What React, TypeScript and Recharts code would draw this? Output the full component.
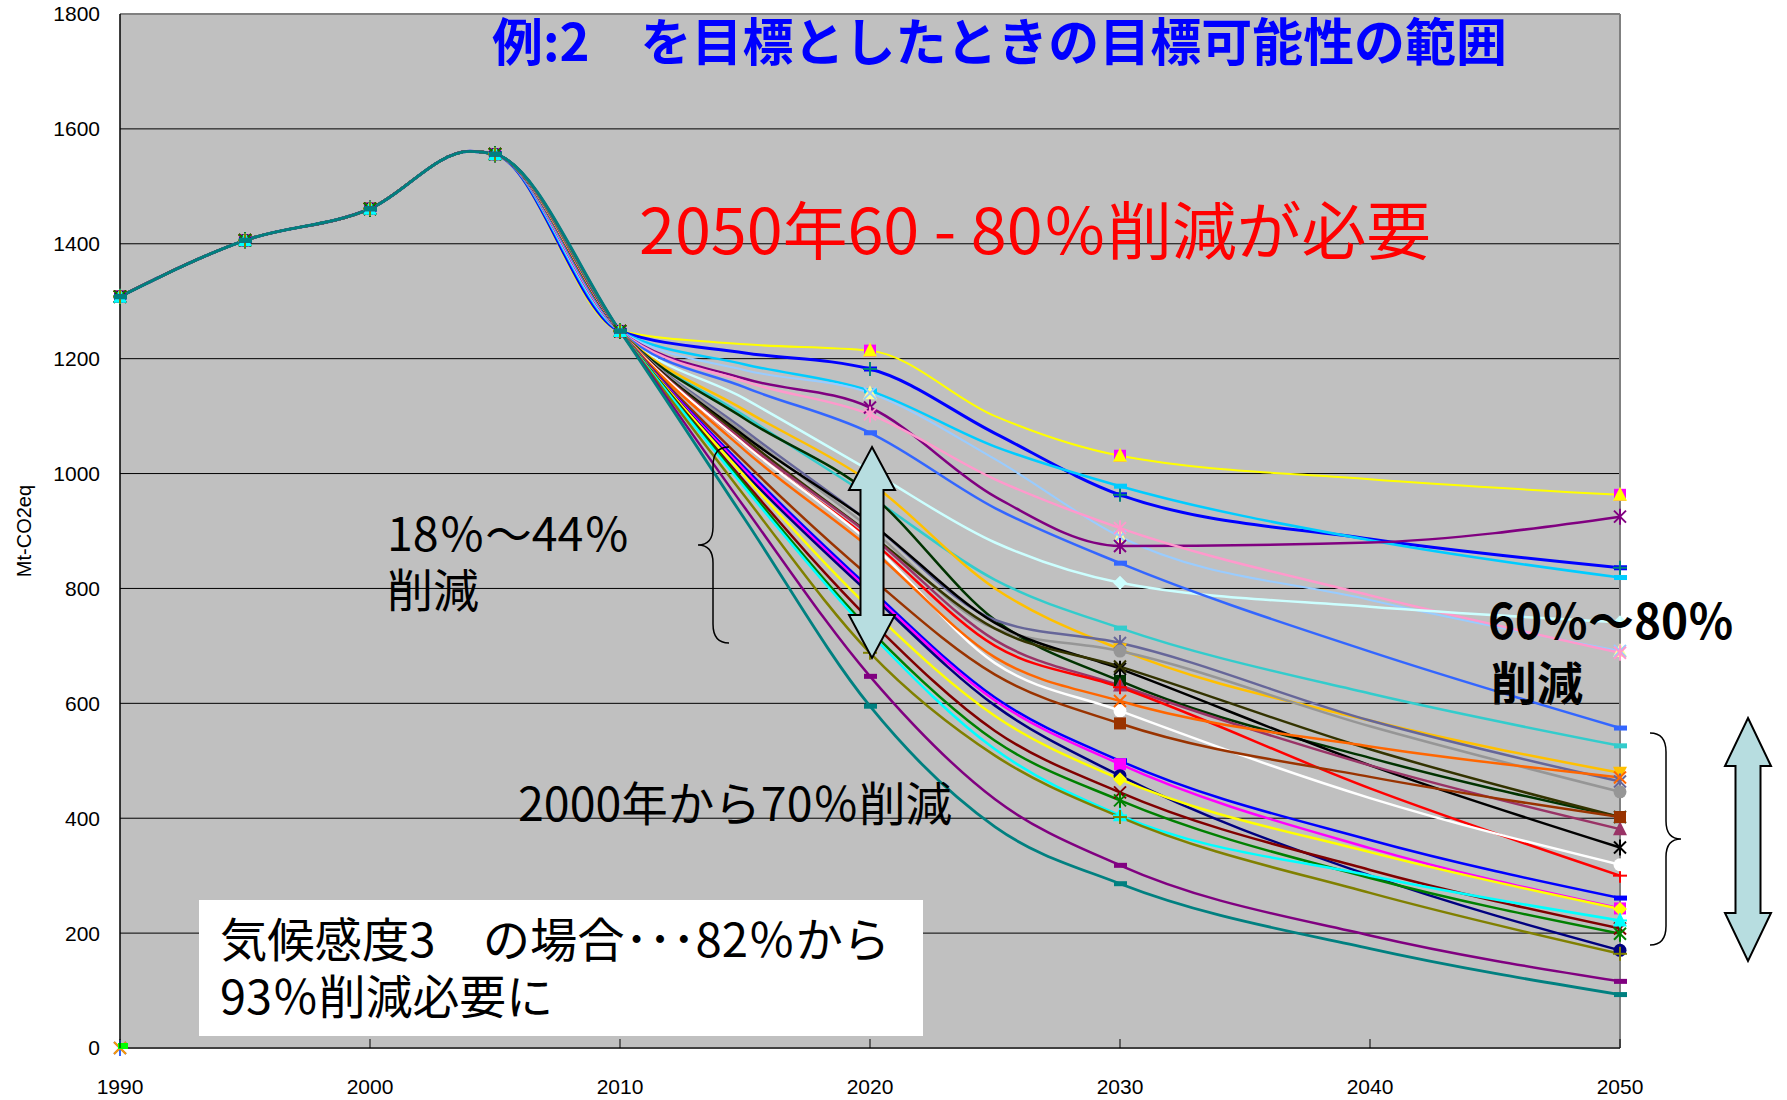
import { LineChart, Line, XAxis, YAxis, CartesianGrid, ReferenceLine } from "recharts";

// shared history 1990-2010 and the scenario years after it
const historyYears = [1990, 1995, 2000, 2004, 2005, 2010];
const historyValues = [1308, 1406, 1461, 1561, 1556, 1248];
const scenarioYears = [2015, 2020, 2025, 2030, 2040, 2050];
const markerYears = [1990, 1995, 2000, 2005, 2010, 2020, 2030, 2050];
const xTicks = [1990, 2000, 2010, 2020, 2030, 2040, 2050];
const yTicks = [0, 200, 400, 600, 800, 1000, 1200, 1400, 1600, 1800];

// scenario values (Mt-CO2eq) at 2015, 2020, 2025, 2030, 2040, 2050
const sYellowTop = [1225, 1214, 1100, 1031, 990, 963];
const sBlueTop = [1210, 1182, 1070, 963, 886, 836];
const sSkyBlue = [1190, 1144, 1047, 978, 884, 819];
const sPaleBlue = [1180, 1140, 1025, 890, 780, 691];
const sPurpleTop = [1165, 1115, 960, 874, 880, 925];
const sPink = [1160, 1103, 990, 905, 788, 688];
const sLightCyan = [1130, 1005, 880, 810, 768, 741];
const sRoyalBlue = [1150, 1071, 940, 844, 690, 557];
const sTurquoise = [1100, 960, 815, 731, 617, 526];
const sGold = [1110, 985, 800, 694, 570, 479];
const sDarkGreen = [1095, 965, 745, 639, 505, 402];
const sSlate = [1075, 915, 745, 705, 570, 464];
const sGray = [1070, 905, 730, 691, 560, 446];
const sBlack = [1065, 915, 740, 660, 492, 349];
const sDarkOlive = [1060, 895, 730, 664, 520, 402];
const sPlum = [1055, 893, 710, 631, 492, 381];
const sRed = [1050, 885, 700, 628, 452, 300];
const sWhite = [1050, 880, 670, 587, 435, 319];
const sOrange = [1040, 870, 680, 604, 525, 471];
const sBrown = [1020, 820, 650, 565, 472, 402];
const sBlueLow = [1010, 800, 610, 500, 362, 261];
const sMagenta = [1005, 795, 605, 494, 348, 243];
const sNavy = [1000, 790, 596, 474, 300, 170];
const sYellowLow = [995, 765, 578, 468, 341, 242];
const sDarkRed = [985, 745, 552, 445, 310, 208];
const sGreen = [980, 728, 535, 431, 296, 199];
const sCyan = [975, 722, 520, 405, 300, 222];
const sOlive = [960, 688, 509, 402, 270, 164];
const sPurpleLow = [940, 647, 433, 318, 196, 116];
const sTeal = [920, 595, 385, 286, 173, 93];

type Mk = { kind: string; color: string };
type Series = { key: string; color: string; width: number; markers: Mk[]; values: number[] };

const series: Series[] = [
  { key: "s01", color: "#FFFF00", width: 2, markers: [{ kind: "square", color: "#FF00FF" }, { kind: "triangle", color: "#FFFF00" }], values: sYellowTop },
  { key: "s02", color: "#0000FF", width: 3, markers: [{ kind: "dash", color: "#0000FF" }, { kind: "plus", color: "#008080" }], values: sBlueTop },
  { key: "s03", color: "#00CCFF", width: 2.5, markers: [{ kind: "dash", color: "#00CCFF" }], values: sSkyBlue },
  { key: "s04", color: "#99CCFF", width: 2, markers: [{ kind: "triangle", color: "#FFFF99" }, { kind: "x", color: "#99CCFF" }], values: sPaleBlue },
  { key: "s05", color: "#800080", width: 2.5, markers: [{ kind: "asterisk", color: "#800080" }], values: sPurpleTop },
  { key: "s06", color: "#FF99CC", width: 2.5, markers: [{ kind: "asterisk", color: "#FF99CC" }], values: sPink },
  { key: "s07", color: "#CCFFFF", width: 2.5, markers: [{ kind: "diamond", color: "#CCFFFF" }], values: sLightCyan },
  { key: "s08", color: "#3366FF", width: 2.5, markers: [{ kind: "dash", color: "#3366FF" }], values: sRoyalBlue },
  { key: "s09", color: "#33CCCC", width: 2.5, markers: [{ kind: "dash", color: "#33CCCC" }], values: sTurquoise },
  { key: "s10", color: "#FFC000", width: 2.5, markers: [{ kind: "triangleDown", color: "#FFC000" }], values: sGold },
  { key: "s11", color: "#003300", width: 2.5, markers: [{ kind: "square", color: "#003300" }], values: sDarkGreen },
  { key: "s12", color: "#666699", width: 2.5, markers: [{ kind: "asterisk", color: "#666699" }], values: sSlate },
  { key: "s13", color: "#969696", width: 2.5, markers: [{ kind: "circle", color: "#969696" }], values: sGray },
  { key: "s14", color: "#000000", width: 2.5, markers: [{ kind: "asterisk", color: "#000000" }], values: sBlack },
  { key: "s15", color: "#333300", width: 2.5, markers: [{ kind: "x", color: "#333300" }], values: sDarkOlive },
  { key: "s16", color: "#993366", width: 2.5, markers: [{ kind: "triangle", color: "#993366" }], values: sPlum },
  { key: "s17", color: "#FF0000", width: 2.5, markers: [{ kind: "plus", color: "#FF0000" }], values: sRed },
  { key: "s18", color: "#FFFFFF", width: 2.5, markers: [{ kind: "circle", color: "#FFFFFF" }], values: sWhite },
  { key: "s19", color: "#FF6600", width: 2.5, markers: [{ kind: "x", color: "#FF6600" }], values: sOrange },
  { key: "s20", color: "#993300", width: 2.5, markers: [{ kind: "square", color: "#993300" }], values: sBrown },
  { key: "s21", color: "#0000FF", width: 2.5, markers: [{ kind: "dash", color: "#0000FF" }], values: sBlueLow },
  { key: "s22", color: "#FF00FF", width: 2.5, markers: [{ kind: "square", color: "#FF00FF" }], values: sMagenta },
  { key: "s23", color: "#000080", width: 2.5, markers: [{ kind: "circle", color: "#000080" }], values: sNavy },
  { key: "s24", color: "#FFFF00", width: 2.5, markers: [{ kind: "diamond", color: "#FFFF00" }], values: sYellowLow },
  { key: "s25", color: "#800000", width: 2.5, markers: [{ kind: "x", color: "#800000" }], values: sDarkRed },
  { key: "s26", color: "#008000", width: 2.5, markers: [{ kind: "asterisk", color: "#008000" }], values: sGreen },
  { key: "s27", color: "#00FFFF", width: 2.5, markers: [{ kind: "triangle", color: "#00FFFF" }, { kind: "plus", color: "#00FFFF" }], values: sCyan },
  { key: "s28", color: "#808000", width: 2.5, markers: [{ kind: "plus", color: "#808000" }], values: sOlive },
  { key: "s29", color: "#800080", width: 2.5, markers: [{ kind: "dash", color: "#800080" }], values: sPurpleLow },
  { key: "s30", color: "#008080", width: 2.8, markers: [{ kind: "dash", color: "#008080" }], values: sTeal },
];

const years = [...historyYears, ...scenarioYears];
const rows = years.map((year, i) => {
  const row: any = { year };
  series.forEach((s) => {
    row[s.key] = i < historyValues.length ? historyValues[i] : s.values[i - historyValues.length];
  });
  if (year === 1990) row.zero = 0;
  return row;
});

function drawMarker(kind: string, color: string, cx: number, cy: number, k: string) {
  switch (kind) {
    case "triangle":
      return <polygon key={k} points={`${cx},${cy - 8} ${cx - 7},${cy + 6} ${cx + 7},${cy + 6}`} fill={color} />;
    case "triangleDown":
      return <polygon key={k} points={`${cx},${cy + 8} ${cx - 7},${cy - 6} ${cx + 7},${cy - 6}`} fill={color} />;
    case "square":
      return <rect key={k} x={cx - 6} y={cy - 6} width={12} height={12} fill={color} />;
    case "circle":
      return <circle key={k} cx={cx} cy={cy} r={6.5} fill={color} />;
    case "diamond":
      return <polygon key={k} points={`${cx},${cy - 7} ${cx + 7},${cy} ${cx},${cy + 7} ${cx - 7},${cy}`} fill={color} />;
    case "dash":
      return <rect key={k} x={cx - 6} y={cy - 2.5} width={13} height={5} fill={color} />;
    case "plus":
      return (
        <g key={k} stroke={color} strokeWidth={2}>
          <line x1={cx - 7} y1={cy} x2={cx + 7} y2={cy} />
          <line x1={cx} y1={cy - 7} x2={cx} y2={cy + 7} />
        </g>
      );
    case "x":
      return (
        <g key={k} stroke={color} strokeWidth={2}>
          <line x1={cx - 6} y1={cy - 6} x2={cx + 6} y2={cy + 6} />
          <line x1={cx - 6} y1={cy + 6} x2={cx + 6} y2={cy - 6} />
        </g>
      );
    case "asterisk":
      return (
        <g key={k} stroke={color} strokeWidth={2}>
          <line x1={cx - 6} y1={cy - 6} x2={cx + 6} y2={cy + 6} />
          <line x1={cx - 6} y1={cy + 6} x2={cx + 6} y2={cy - 6} />
          <line x1={cx} y1={cy - 8} x2={cx} y2={cy + 8} />
        </g>
      );
    default:
      return null;
  }
}

const makeDot = (s: Series) => (props: any) => {
  const { cx, cy, payload, index } = props;
  const key = `${s.key}-${index}`;
  if (cx == null || cy == null || !markerYears.includes(payload.year)) return <g key={key} />;
  return <g key={key}>{s.markers.map((m, j) => drawMarker(m.kind, m.color, cx, cy, `${key}-${j}`))}</g>;
};

const zeroDot = (props: any) => {
  const { cx, cy, index } = props;
  const key = `zero-${index}`;
  if (cx == null || cy == null) return <g key={key} />;
  return (
    <g key={key}>
      {drawMarker("asterisk", "#3366FF", cx, cy, key + "a")}
      {drawMarker("x", "#FF9900", cx, cy, key + "b")}
      <rect x={cx - 2} y={cy - 5} width={10} height={6} fill="#00FF00" />
    </g>
  );
};

const XTick = (props: any) => {
  const { x, y, payload } = props;
  return (
    <g>
      <line x1={x} y1={y} x2={x} y2={y - 9} stroke="#000" strokeWidth={1} />
      <text x={x} y={y + 46} textAnchor="middle" fontFamily="Liberation Sans, Arial" fontSize={21} fill="#000">
        {payload.value}
      </text>
    </g>
  );
};

const jp = "'Noto Sans CJK JP', sans-serif";

function arrowPath(cx: number, top: number, bottom: number, headHalf: number, shaftHalf: number, headH: number) {
  return `M ${cx} ${top} L ${cx + headHalf} ${top + headH} L ${cx + shaftHalf} ${top + headH} L ${cx + shaftHalf} ${bottom - headH} L ${cx + headHalf} ${bottom - headH} L ${cx} ${bottom} L ${cx - headHalf} ${bottom - headH} L ${cx - shaftHalf} ${bottom - headH} L ${cx - shaftHalf} ${top + headH} L ${cx - headHalf} ${top + headH} Z`;
}

export default function App() {
  return (
    <div style={{ position: "absolute", left: 0, top: 0, width: 1787, height: 1100, background: "#fff" }}>
      <LineChart width={1787} height={1100} data={rows} margin={{ top: 14, right: 167, bottom: 0, left: 0 }}>
        <CartesianGrid
          fill="#C0C0C0"
          vertical={false}
          stroke="#000"
          strokeWidth={1}
          horizontalValues={[200, 400, 600, 800, 1000, 1200, 1400, 1600]}
        />
        <XAxis
          type="number"
          dataKey="year"
          domain={[1990, 2050]}
          ticks={xTicks}
          height={52}
          tickSize={0}
          tickMargin={0}
          tickLine={false}
          tick={<XTick />}
          axisLine={{ stroke: "#404040", strokeWidth: 2 }}
        />
        <YAxis
          type="number"
          domain={[0, 1800]}
          ticks={yTicks}
          width={120}
          tickSize={0}
          tickMargin={20}
          tickLine={false}
          axisLine={{ stroke: "#000", strokeWidth: 1.5 }}
          tick={{ fontFamily: "Liberation Sans, Arial", fontSize: 21, fill: "#000" }}
        />
        <ReferenceLine y={1800} stroke="#808080" strokeWidth={2} />
        <ReferenceLine x={2050} stroke="#808080" strokeWidth={2} />
        {series.map((s) => (
          <Line
            key={s.key}
            type="monotone"
            dataKey={s.key}
            stroke={s.color}
            strokeWidth={s.width}
            dot={makeDot(s)}
            activeDot={false}
            isAnimationActive={false}
          />
        ))}
        <Line dataKey="zero" stroke="none" dot={zeroDot} activeDot={false} isAnimationActive={false} />
      </LineChart>

      <svg width={1787} height={1100} style={{ position: "absolute", left: 0, top: 0, pointerEvents: "none" }}>
        <text x={24} y={531} transform="rotate(-90 24 531)" textAnchor="middle" dominantBaseline="central" fontFamily="Liberation Sans, Arial" fontSize={20} fill="#000">
          Mt-CO2eq
        </text>

        <text x={492} y={61} textLength={1015} lengthAdjust="spacingAndGlyphs" fontFamily={jp} fontWeight={700} fontSize={51} fill="#0000FF">
          例:2　を目標としたときの目標可能性の範囲
        </text>

        <text x={639} y={254} textLength={792} lengthAdjust="spacingAndGlyphs" fontFamily={jp} fontSize={63} fill="#FF0000">
          2050年60 - 80％削減が必要
        </text>

        <text x={387} y={551} textLength={243} lengthAdjust="spacingAndGlyphs" fontFamily={jp} fontSize={46} fill="#000">
          18％～44％
        </text>
        <text x={387} y={607} fontFamily={jp} fontSize={46} fill="#000">
          削減
        </text>

        <path d="M 729 447 Q 713 447 713 466 L 713 527 Q 713 545 698 545 Q 713 545 713 563 L 713 624 Q 713 643 729 643" fill="none" stroke="#000" strokeWidth={1.5} />
        <path d={arrowPath(872, 447, 658, 23, 11.5, 43)} fill="#B7DDE0" stroke="#000" strokeWidth={2} />

        <text x={518} y={821} textLength={434} lengthAdjust="spacingAndGlyphs" fontFamily={jp} fontSize={47} fill="#000">
          2000年から70％削減
        </text>

        <rect x={199} y={900} width={724} height={136} fill="#FFFFFF" />
        <text x={220} y={957} textLength={670} lengthAdjust="spacingAndGlyphs" fontFamily={jp} fontSize={47} fill="#000">
          気候感度3　の場合･･･82％から
        </text>
        <text x={220} y={1014} textLength={333} lengthAdjust="spacingAndGlyphs" fontFamily={jp} fontSize={47} fill="#000">
          93％削減必要に
        </text>

        <text x={1488} y={639} textLength={246} lengthAdjust="spacingAndGlyphs" fontFamily={jp} fontWeight={700} fontSize={48} fill="#000">
          60％～80％
        </text>
        <text x={1491} y={700} fontFamily={jp} fontWeight={700} fontSize={46} fill="#000">
          削減
        </text>

        <path d="M 1650 733 Q 1666 733 1666 752 L 1666 821 Q 1666 839 1681 839 Q 1666 839 1666 857 L 1666 926 Q 1666 945 1650 945" fill="none" stroke="#000" strokeWidth={1.5} />
        <path d={arrowPath(1748, 718, 961, 23, 12.5, 48)} fill="#B7DDE0" stroke="#000" strokeWidth={2} />
      </svg>
    </div>
  );
}
